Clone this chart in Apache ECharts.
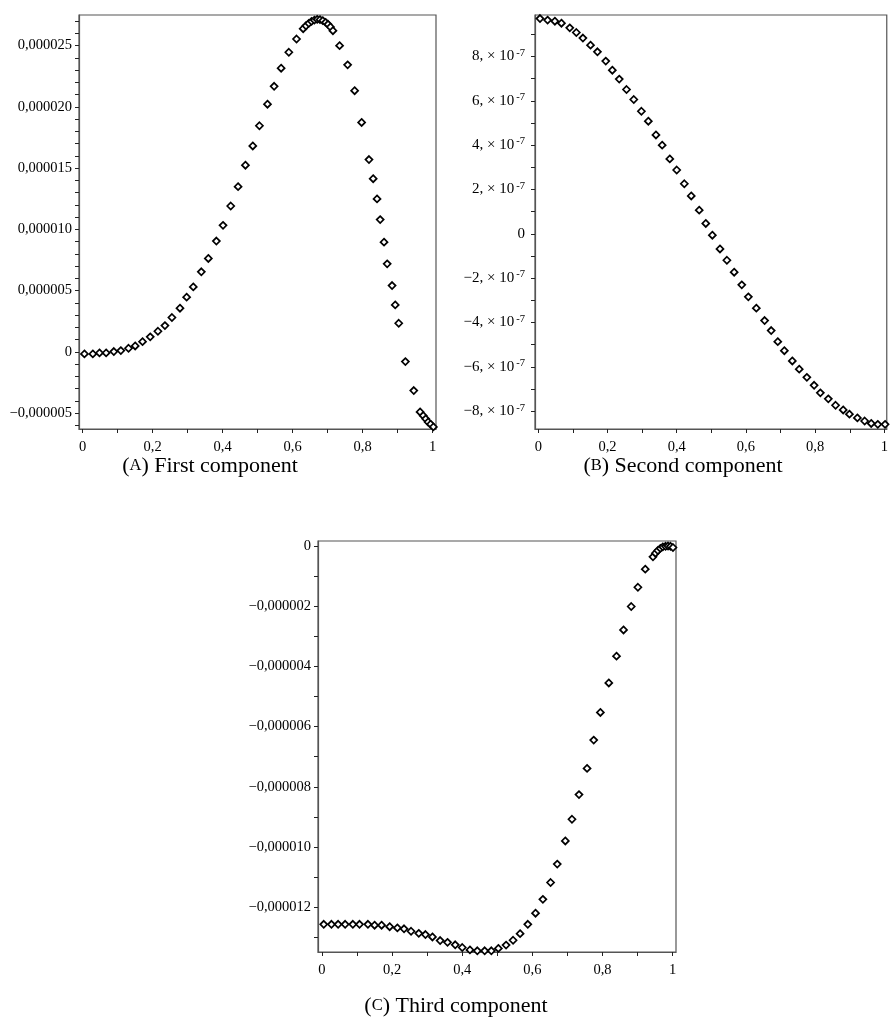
<!DOCTYPE html>
<html>
<head>
<meta charset="utf-8">
<script src="https://cdn.jsdelivr.net/npm/echarts@6/dist/echarts.min.js"></script>
<style>
  html, body { margin: 0; padding: 0; background: #fff; }
  #chart { width: 891px; height: 1021px; }
</style>
</head>
<body>
<div id="chart"></div>
<script>
// (A) first component, y in units of 1e-6
const xA = [0.005, 0.029, 0.048, 0.067, 0.089, 0.109, 0.131, 0.150, 0.171, 0.193,
  0.215, 0.235, 0.255, 0.278, 0.297, 0.316, 0.339, 0.359, 0.382, 0.401,
  0.423, 0.444, 0.465, 0.486, 0.505, 0.528, 0.547, 0.567, 0.589, 0.611,
  0.630, 0.638, 0.646, 0.654, 0.662, 0.670, 0.678, 0.686, 0.694, 0.701,
  0.708, 0.715, 0.734, 0.757, 0.777, 0.797, 0.818, 0.830, 0.841, 0.850,
  0.861, 0.870, 0.884, 0.893, 0.903, 0.922, 0.946, 0.964, 0.973, 0.980,
  0.987, 0.994, 1.002];
const yA = [-0.16, -0.16, -0.08, -0.08, 0.03, 0.11, 0.30, 0.49, 0.84, 1.23,
  1.69, 2.15, 2.81, 3.57, 4.47, 5.31, 6.54, 7.63, 9.05, 10.33,
  11.91, 13.49, 15.24, 16.81, 18.46, 20.22, 21.68, 23.16, 24.46, 25.54,
  26.38, 26.62, 26.82, 26.98, 27.08, 27.14, 27.12, 27.04, 26.90, 26.74,
  26.52, 26.22, 25.00, 23.43, 21.32, 18.73, 15.70, 14.14, 12.49, 10.80,
  8.96, 7.19, 5.42, 3.84, 2.34, -0.79, -3.15, -4.90, -5.20, -5.46,
  -5.72, -5.90, -6.12];

// (B) second component, y in units of 1e-7
const xB = [0.005, 0.027, 0.048, 0.067, 0.091, 0.110, 0.129, 0.151, 0.171, 0.195,
  0.214, 0.234, 0.255, 0.276, 0.298, 0.318, 0.340, 0.358, 0.380, 0.400,
  0.422, 0.442, 0.465, 0.484, 0.503, 0.525, 0.545, 0.566, 0.588, 0.607,
  0.630, 0.654, 0.673, 0.692, 0.711, 0.734, 0.754, 0.776, 0.797, 0.815,
  0.838, 0.859, 0.881, 0.899, 0.922, 0.943, 0.962, 0.981, 1.002];
const yB = [9.71, 9.64, 9.59, 9.50, 9.29, 9.08, 8.83, 8.51, 8.21, 7.79,
  7.38, 6.98, 6.51, 6.06, 5.53, 5.08, 4.46, 4.00, 3.38, 2.88,
  2.26, 1.71, 1.07, 0.47, -0.06, -0.68, -1.19, -1.73, -2.30, -2.84,
  -3.35, -3.91, -4.36, -4.86, -5.27, -5.73, -6.10, -6.47, -6.83, -7.17,
  -7.44, -7.73, -7.94, -8.13, -8.30, -8.44, -8.55, -8.59, -8.59];

// (C) third component, y in units of 1e-6
const xC = [0.005, 0.027, 0.046, 0.066, 0.088, 0.107, 0.131, 0.150, 0.170, 0.193,
  0.215, 0.234, 0.254, 0.276, 0.295, 0.315, 0.337, 0.358, 0.380, 0.400,
  0.422, 0.443, 0.464, 0.483, 0.503, 0.525, 0.545, 0.565, 0.587, 0.609,
  0.630, 0.652, 0.671, 0.694, 0.713, 0.733, 0.756, 0.775, 0.794, 0.818,
  0.840, 0.860, 0.882, 0.901, 0.922, 0.944, 0.951, 0.958, 0.965, 0.972,
  0.980, 0.987, 0.994, 1.001];
const yC = [-12.57, -12.57, -12.57, -12.57, -12.57, -12.57, -12.57, -12.60, -12.60, -12.65,
  -12.69, -12.72, -12.80, -12.87, -12.91, -12.99, -13.11, -13.17, -13.25, -13.34,
  -13.42, -13.45, -13.45, -13.45, -13.37, -13.26, -13.10, -12.88, -12.57, -12.20,
  -11.74, -11.18, -10.57, -9.80, -9.08, -8.26, -7.39, -6.45, -5.53, -4.55,
  -3.66, -2.79, -2.01, -1.37, -0.77, -0.36, -0.24, -0.15, -0.08, -0.03,
  -0.01, 0.00, -0.01, -0.05];

// tick labels
const xTickValues = [0, 0.2, 0.4, 0.6, 0.8, 1];
const xTickLabels = ['0', '0,2', '0,4', '0,6', '0,8', '1'];
const yTickValuesA = [-5, 0, 5, 10, 15, 20, 25];
const yTickLabelsA = ['\u22120,000005', '0', '0,000005', '0,000010', '0,000015', '0,000020', '0,000025'];
const yTickValuesB = [-8, -6, -4, -2, 0, 2, 4, 6, 8];
const yTickLabelsB = ['\u22128,', '\u22126,', '\u22124,', '\u22122,', '0', '2,', '4,', '6,', '8,'];
const yTickValuesC = [-12, -10, -8, -6, -4, -2, 0];
const yTickLabelsC = ['\u22120,000012', '\u22120,000010', '\u22120,000008', '\u22120,000006', '\u22120,000004', '\u22120,000002', '0'];

const FONT = '"Liberation Serif", "DejaVu Serif", serif';

function range(a, b, step) {
  const out = [];
  for (let v = a; v <= b + 1e-9; v += step) out.push(Math.round(v * 1000) / 1000);
  return out;
}

function pick(values, labels) {
  return (v) => {
    const i = values.findIndex((t) => Math.abs(t - v) < 1e-9);
    return i < 0 ? '' : labels[i];
  };
}

function xAxisFor(idx, min, max) {
  return {
    type: 'value', gridIndex: idx, min: min, max: max,
    axisLine: { show: true, onZero: false, lineStyle: { color: '#555', width: 1.2 } },
    axisTick: { show: true, length: 4, lineStyle: { color: '#222' }, customValues: range(0, 1, 0.1) },
    axisLabel: {
      customValues: xTickValues, formatter: pick(xTickValues, xTickLabels),
      fontFamily: FONT, fontSize: 14.5, color: '#000', margin: 11
    },
    splitLine: { show: false }
  };
}

function yAxisFor(idx, min, max, ticks, values, labels, rich) {
  const lbl = {
    customValues: values, formatter: pick(values, labels),
    fontFamily: FONT, fontSize: 14.5, color: '#000', margin: 7
  };
  if (rich) {
    lbl.margin = 10;
    lbl.formatter = (v) => {
      const s = pick(values, labels)(v);
      if (s === '0') return '{b|0}';
      return '{b|' + s + ' \u00d7 10}{s|-7}';
    };
    lbl.rich = {
      b: { fontFamily: FONT, fontSize: 15, lineHeight: 18, color: '#000' },
      s: { fontFamily: FONT, fontSize: 10.5, lineHeight: 11, verticalAlign: 'top', color: '#000', padding: [0, 0, 0, 2] }
    };
  }
  return {
    type: 'value', gridIndex: idx, min: min, max: max,
    axisLine: { show: true, onZero: false, lineStyle: { color: '#555', width: 1.2 } },
    axisTick: { show: true, length: 4, lineStyle: { color: '#222' }, customValues: ticks },
    axisLabel: lbl,
    splitLine: { show: false }
  };
}

function pointSeries(idx, xs, ys) {
  return {
    type: 'scatter', xAxisIndex: idx, yAxisIndex: idx,
    data: xs.map((x, i) => [x, ys[i]]),
    symbol: 'diamond', symbolSize: [7, 7],
    itemStyle: { color: '#fff', borderColor: '#000', borderWidth: 1.7, opacity: 1 },
    silent: true, animation: false
  };
}

const chart = echarts.init(document.getElementById('chart'), null, { renderer: 'canvas' });

const gridStyle = { show: true, borderColor: '#555', borderWidth: 1.2, backgroundColor: 'transparent', containLabel: false };

const captionStyle = (text) => ({
  text: text,
  rich: {
    t: { fontFamily: FONT, fontSize: 22, color: '#000' },
    c: { fontFamily: FONT, fontSize: 16.5, color: '#000' }
  },
  align: 'center', verticalAlign: 'middle'
});

chart.setOption({
  backgroundColor: '#fff',
  animation: false,
  grid: [
    Object.assign({ left: 79, top: 15, width: 357, height: 414 }, gridStyle),
    Object.assign({ left: 535, top: 15, width: 355, height: 414 }, gridStyle),
    Object.assign({ left: 318, top: 541, width: 358, height: 411 }, gridStyle)
  ],
  xAxis: [
    xAxisFor(0, -0.0105, 1.0095),
    xAxisFor(1, -0.0094, 1.0069),
    xAxisFor(2, -0.0114, 1.0097)
  ],
  yAxis: [
    yAxisFor(0, -6.29, 27.5, range(-6, 27, 1), yTickValuesA, yTickLabelsA, false),
    yAxisFor(1, -8.80, 9.87, range(-8, 9, 1), yTickValuesB, yTickLabelsB, true),
    yAxisFor(2, -13.49, 0.166, range(-13, 0, 1), yTickValuesC, yTickLabelsC, false)
  ],
  series: [
    pointSeries(0, xA, yA),
    pointSeries(1, xB, yB),
    pointSeries(2, xC, yC)
  ],
  graphic: [
    { type: 'text', x: 210, y: 466, style: captionStyle('{t|(}{c|A}{t|) First component}') },
    { type: 'text', x: 683, y: 466, style: captionStyle('{t|(}{c|B}{t|) Second component}') },
    { type: 'text', x: 456, y: 1006, style: captionStyle('{t|(}{c|C}{t|) Third component}') }
  ]
});
</script>
</body>
</html>
